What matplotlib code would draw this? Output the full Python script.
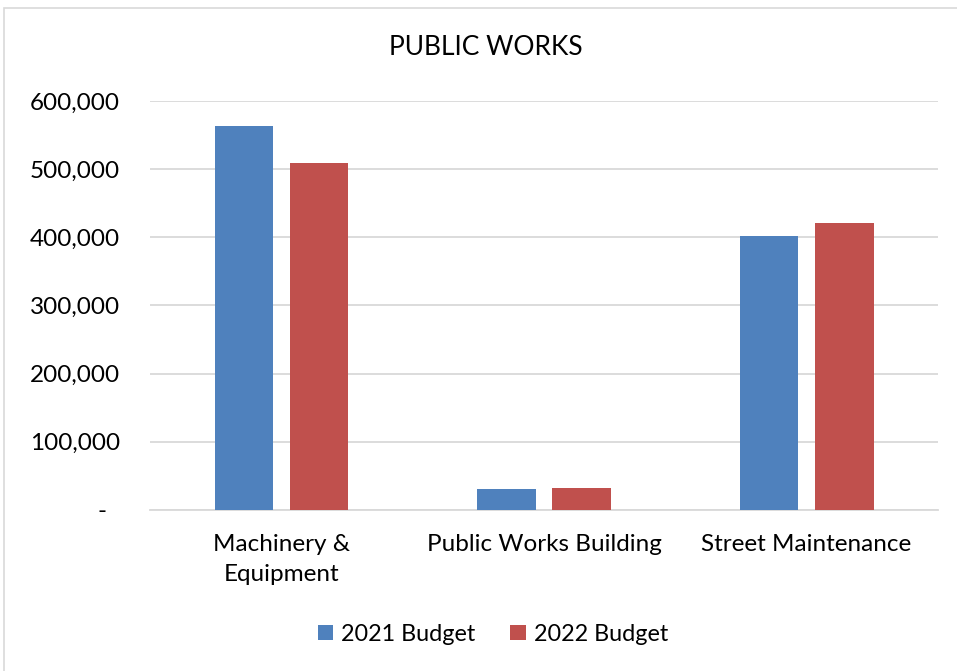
import numpy as np
import matplotlib.pyplot as plt
from matplotlib.patches import Rectangle
from matplotlib.ticker import FuncFormatter

plt.rcParams['font.family'] = ['Lato', 'DejaVu Sans']

# Budget data
categories = ['Machinery &\nEquipment', 'Public Works Building', 'Street Maintenance']
budget_2021 = [563500, 30700, 401500]
budget_2022 = [509500, 31700, 420400]
series_names = ['2021 Budget', '2022 Budget']
colors = ['#4F81BD', '#C0504D']

fig = plt.figure(figsize=(9.57, 6.71), dpi=100)
ax = fig.add_axes([0.157, 0.240, 0.823, 0.6095])

# light frame around the chart area
fig.patches.append(Rectangle((4 / 957, -0.1), 1.2, 1 - 8 / 671 + 0.1,
                             transform=fig.transFigure, fill=False,
                             edgecolor='#d9d9d9', linewidth=1.2))

x = np.arange(len(categories))
width = 0.224
offset = 0.143
ax.bar(x - offset, budget_2021, width, color=colors[0], label=series_names[0], zorder=3)
ax.bar(x + offset, budget_2022, width, color=colors[1], label=series_names[1], zorder=3)

ax.set_xlim(-0.5, 2.5)
ax.set_ylim(0, 600000)
ax.set_yticks(np.arange(0, 600001, 100000))
ax.yaxis.set_major_formatter(FuncFormatter(lambda v, p: f'{v:,.0f}' if v else '-  '))
ax.grid(axis='y', color='#d9d9d9', linewidth=1.3, zorder=0)
ax.set_axisbelow(True)

for s in ['top', 'right', 'left']:
    ax.spines[s].set_visible(False)
ax.spines['bottom'].set_color('#d9d9d9')
ax.spines['bottom'].set_linewidth(1.3)

ax.set_xticks(x)
ax.set_xticklabels(categories, fontsize=17.5, linespacing=1.55)
ax.tick_params(axis='x', length=0, pad=17)
ax.tick_params(axis='y', length=0, pad=22, labelsize=17.5)

fig.text(0.508, 0.929, 'PUBLIC WORKS', ha='center', va='center', fontsize=19)

fig.legend(loc='center', bbox_to_anchor=(0.515, 0.055), ncol=2, frameon=False,
           fontsize=16.8, handlelength=0.65, handleheight=0.65, handletextpad=0.35,
           columnspacing=1.5)

fig.savefig('out.png', dpi=100)
